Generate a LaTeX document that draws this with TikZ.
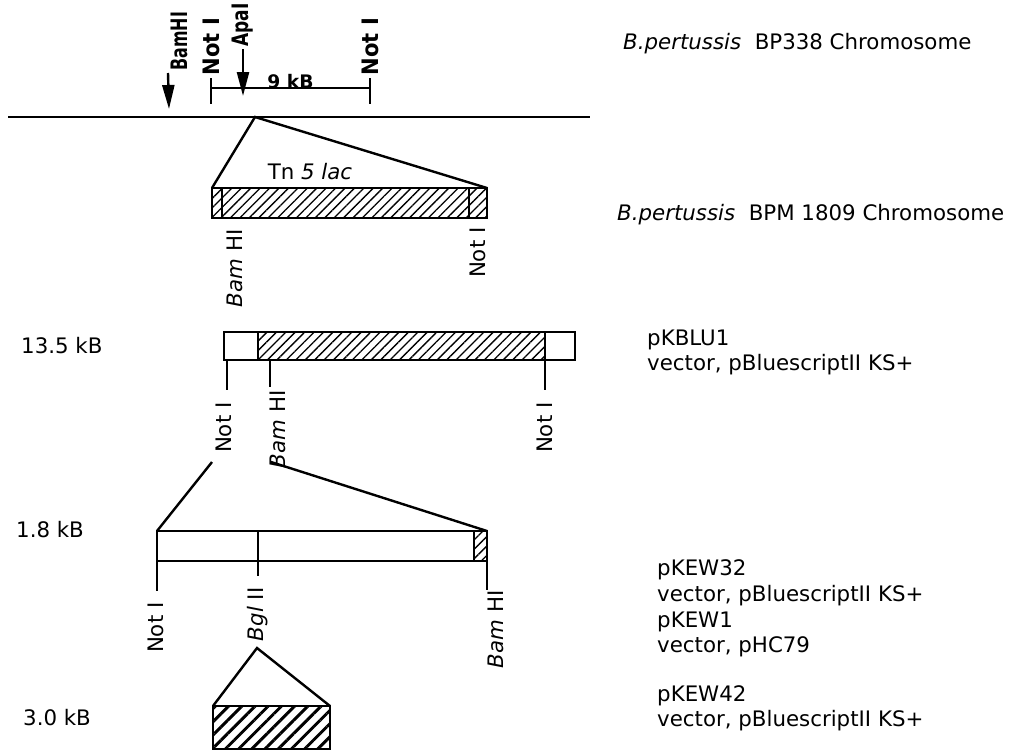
\documentclass[tikz,border=0pt]{standalone}
\usepackage{fontspec}
\setmainfont{DejaVu Sans}
\usetikzlibrary{arrows.meta,patterns.meta}

\newcommand{\lblfont}{\fontsize{16}{19}\selectfont}
\newcommand{\topfont}{\fontsize{17}{19}\selectfont\bfseries}
\newcommand{\narrow}[2]{\scalebox{#1}[1]{#2}}

\begin{document}
\begin{tikzpicture}[x=0.75pt,y=-0.75pt,line width=1.8pt,
    site/.style={rotate=90,inner sep=1pt,font=\lblfont,anchor=east},
    topsite/.style={rotate=90,inner sep=1pt,font=\topfont,anchor=west},
    txt/.style={font=\lblfont,inner sep=0pt,anchor=west},
    hatch/.style={pattern={Lines[angle=45,distance=5pt,line width=1pt]}},
    thickhatch/.style={pattern={Lines[angle=45,distance=7pt,line width=2.2pt]}},
    cutsite/.style={-{Triangle[length=18pt,width=9pt]}}]
    \useasboundingbox (0,0) rectangle (1016,750);
    % BP338 chromosome
    \coordinate (chrL) at (8,117);
    \coordinate (chrR) at (590,117);
    \draw (chrL) -- (chrR);
    \node[txt] (bp338) at (622,44) {\textit{B.pertussis}\ \ BP338 Chromosome};
    % Sites on the chromosome
    \node[topsite,anchor=north west] (bamA) at (168,73) {\narrow{0.7}{BamHI}};
    \node[topsite] (apa) at (243,49) {\narrow{0.75}{ApaI}};
    \node[topsite] (notA) at (211,78) {\narrow{0.93}{Not I}};
    \node[topsite] (notB) at (370,78) {\narrow{0.93}{Not I}};
    \coordinate (bamAtip) at (169,109);
    \coordinate (apatip) at (243,96);
    \coordinate (notAend) at (211,104);
    \coordinate (notBend) at (370,104);
    \draw[cutsite] (bamA.north west) -- (bamAtip);
    \draw[cutsite] (apa.west) -- (apatip);
    \draw (notA.west) -- (notAend);
    \draw (notB.west) -- (notBend);
    \coordinate (scA) at (211,88);
    \coordinate (scB) at (370,88);
    \draw (scA) -- (scB) node[midway,anchor=base,inner sep=0pt,font=\fontsize{14}{16}\selectfont\bfseries] (scale) {9 kB};
    % Tn5 lac insertion, BPM 1809
    \coordinate (ins) at (255,117);
    \coordinate (tnNW) at (212,188);
    \coordinate (tnNE) at (487,188);
    \coordinate (tnSE) at (487,218);
    \draw[hatch] (tnNW) rectangle (tnSE);
    \foreach \x in {222,469} \draw (\x,188) -- (\x,218);
    \draw (tnNW) -- (ins) -- (tnNE);
    \node[font=\lblfont] (tn) at (310,172) {Tn \textit{5 lac}};
    \node[site] (tnbam) at (235,227) {\textit{Bam} HI};
    \node[site] (tnnot) at (478,225) {Not I};
    \node[txt] (bpm) at (616,215) {\textit{B.pertussis}\ \ BPM 1809 Chromosome};
    % pKBLU1
    \coordinate (kbNW) at (224,332);
    \coordinate (kbSE) at (575,360);
    \draw (kbNW) rectangle (kbSE);
    \draw[hatch] (258,332) rectangle (545,360);
    \foreach \x/\b in {227/390,270/387,545/390} \draw (\x,360) -- (\x,\b);
    \node[site] (kbnotA) at (224,400) {Not I};
    \node[site] (kbbam) at (278,388) {\textit{Bam} HI};
    \node[site] (kbnotB) at (545,400) {Not I};
    \node[txt] (kbsize) at (20,346) {13.5 kB};
    % pKEW32 / pKEW1
    \coordinate (cutA) at (212,462);
    \coordinate (cutB) at (271,462);
    \coordinate (kewNW) at (157,531);
    \coordinate (kewNE) at (487,531);
    \coordinate (kewSE) at (487,561);
    \draw (kewNW) rectangle (kewSE);
    \draw[hatch] (474,531) rectangle (kewSE);
    \draw (cutA) -- (kewNW);
    \draw (cutB) -- (kewNE);
    \foreach \x/\b in {157/591,258/576,487/590} \draw (\x,561) -- (\x,\b);
    \draw (258,531) -- (258,561);
    \node[site] (kewnot) at (156,600) {Not I};
    \node[site] (kewbgl) at (258,585) {\textit{Bgl} II};
    \node[site] (kewbam) at (496,588) {\textit{Bam} HI};
    \node[txt] (kewsize) at (15,530) {1.8 kB};
    % pKEW42
    \coordinate (bglApex) at (257,648);
    \coordinate (lowNW) at (213,706);
    \coordinate (lowNE) at (330,706);
    \coordinate (lowSE) at (330,749);
    \draw[thickhatch] (lowNW) rectangle (lowSE);
    \draw (lowNW) -- (bglApex) -- (lowNE);
    \node[txt] (lowsize) at (22,718) {3.0 kB};
    % Plasmid names
    \foreach \y/\t [count=\i] in {340/pKBLU1,365/{vector, pBluescriptII KS+}}
        \node[txt] (kbtxt\i) at (646,\y) {\t};
    \foreach \y/\t [count=\i] in {570/pKEW32,596/{vector, pBluescriptII KS+},622/pKEW1,
        647/{vector, pHC79},696/pKEW42,721/{vector, pBluescriptII KS+}}
        \node[txt] (kewtxt\i) at (656,\y) {\t};
\end{tikzpicture}
\end{document}
